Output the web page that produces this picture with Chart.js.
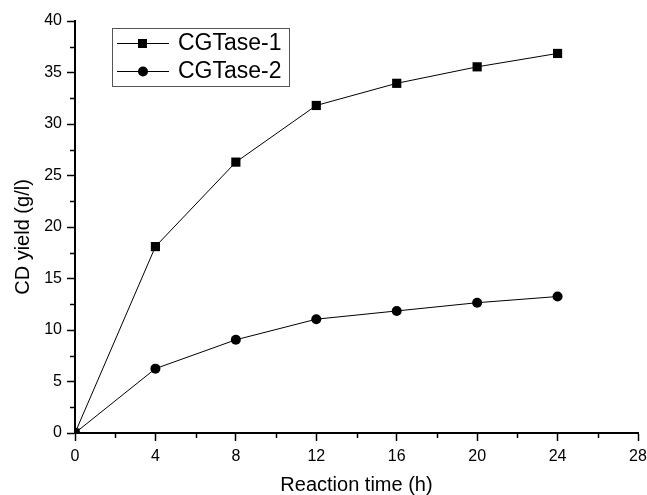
<!DOCTYPE html>
<html>
<head>
<meta charset="utf-8">
<title>CD yield</title>
<script src="https://cdn.jsdelivr.net/npm/chart.js"></script>
<style>
  html, body { margin: 0; padding: 0; background: #fff; }
  #wrap { width: 647px; height: 495px; }
</style>
</head>
<body>
<div id="wrap"><canvas id="yieldChart" width="647" height="495"></canvas></div>
<script>
// data
const hours = [0, 4, 8, 12, 16, 20, 24];
const cgtase1 = [0, 18.1, 26.3, 31.8, 33.95, 35.55, 36.85];
const cgtase2 = [0, 6.25, 9.05, 11.05, 11.85, 12.65, 13.25];
const seriesNames = ['CGTase-1', 'CGTase-2'];
const xTicks = [0, 4, 8, 12, 16, 20, 24, 28];
const yTicks = [0, 5, 10, 15, 20, 25, 30, 35, 40];
const yTitle = 'CD yield (g/l)';

const FONT = '"Liberation Sans", Arial, sans-serif';

// minor ticks, y title and framed legend drawn on top
const extras = {
  id: 'extras',
  afterDraw(chart) {
    const ctx = chart.ctx;
    const xs = chart.scales.x, ys = chart.scales.y;
    const area = chart.chartArea;
    ctx.save();
    ctx.strokeStyle = '#000';
    ctx.lineWidth = 1.5;
    // minor ticks
    for (let v = 2; v < 28; v += 4) {
      const px = Math.round(xs.getPixelForValue(v)) + 0.5;
      ctx.beginPath();
      ctx.moveTo(px, area.bottom);
      ctx.lineTo(px, area.bottom + 5);
      ctx.stroke();
    }
    for (let v = 2.5; v < 40; v += 5) {
      const py = Math.round(ys.getPixelForValue(v)) + 0.5;
      ctx.beginPath();
      ctx.moveTo(area.left, py);
      ctx.lineTo(area.left - 5, py);
      ctx.stroke();
    }
    // y axis title
    ctx.save();
    ctx.translate(23, 237);
    ctx.rotate(-Math.PI / 2);
    ctx.font = '20px ' + FONT;
    ctx.fillStyle = '#000';
    ctx.textAlign = 'center';
    ctx.textBaseline = 'middle';
    ctx.fillText(yTitle, 0, 0);
    ctx.restore();
    // legend
    const bx = 112, by = 28, bw = 177, bh = 58;
    ctx.lineWidth = 1;
    ctx.strokeStyle = '#555';
    ctx.strokeRect(bx + 0.5, by + 0.5, bw, bh);
    const rows = [by + 15, by + 43];
    ctx.font = '23px ' + FONT;
    ctx.textBaseline = 'middle';
    ctx.fillStyle = '#000';
    chart.data.datasets.forEach((ds, i) => {
      const y = rows[i];
      ctx.strokeStyle = '#000';
      ctx.lineWidth = 1;
      ctx.beginPath();
      ctx.moveTo(bx + 5, y + 0.5);
      ctx.lineTo(bx + 57, y + 0.5);
      ctx.stroke();
      ctx.beginPath();
      if (ds.pointStyle === 'rect') {
        ctx.rect(bx + 26, y - 4, 9, 9);
      } else {
        ctx.arc(bx + 31, y + 0.5, 5, 0, Math.PI * 2);
      }
      ctx.fill();
      ctx.fillText(ds.label, bx + 66, y + 1);
    });
    ctx.restore();
  }
};

new Chart(document.getElementById('yieldChart'), {
  type: 'line',
  data: {
    datasets: [
      {
        label: seriesNames[0],
        data: hours.map((h, i) => ({ x: h, y: cgtase1[i] })),
        borderColor: '#000',
        backgroundColor: '#000',
        borderWidth: 1,
        pointStyle: 'rect',
        pointRadius: 6.5,
        pointBorderWidth: 0,
        tension: 0
      },
      {
        label: seriesNames[1],
        data: hours.map((h, i) => ({ x: h, y: cgtase2[i] })),
        borderColor: '#000',
        backgroundColor: '#000',
        borderWidth: 1,
        pointStyle: 'circle',
        pointRadius: 5,
        pointBorderWidth: 0,
        tension: 0
      }
    ]
  },
  options: {
    responsive: false,
    animation: false,
    events: [],
    layout: { padding: { top: 21, right: 9, left: 0, bottom: 0 } },
    plugins: {
      legend: { display: false },
      tooltip: { enabled: false }
    },
    scales: {
      x: {
        type: 'linear',
        min: 0,
        max: 28,
        afterBuildTicks: (s) => { s.ticks = xTicks.map(v => ({ value: v })); },
        afterFit: (s) => { s.height = 62; s.paddingLeft = 0; s.paddingRight = 0; },
        border: { display: true, color: '#000', width: 2 },
        grid: { drawOnChartArea: false, drawTicks: true, tickLength: 8, tickColor: '#000', tickWidth: 1.5 },
        ticks: { color: '#000', font: { family: FONT, size: 16 }, padding: 6, maxRotation: 0 },
        title: { display: true, text: 'Reaction time (h)', color: '#000', font: { family: FONT, size: 20, lineHeight: 1 }, padding: { top: 2, bottom: 0 } }
      },
      y: {
        min: 0,
        max: 40,
        afterBuildTicks: (s) => { s.ticks = yTicks.map(v => ({ value: v })); },
        afterFit: (s) => { s.width = 75; s.paddingTop = 0; s.paddingBottom = 0; },
        border: { display: true, color: '#000', width: 2 },
        grid: { drawOnChartArea: false, drawTicks: true, tickLength: 8, tickColor: '#000', tickWidth: 1.5 },
        ticks: { color: '#000', font: { family: FONT, size: 16 }, padding: 5 },
        title: { display: false }
      }
    }
  },
  plugins: [extras]
});
</script>
</body>
</html>
